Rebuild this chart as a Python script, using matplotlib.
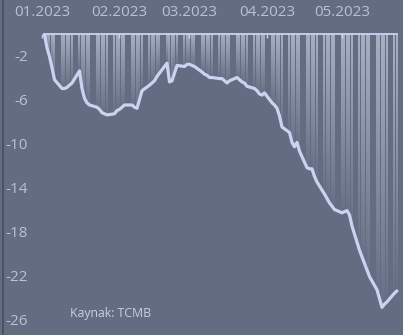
import numpy as np
import pandas as pd
import matplotlib
matplotlib.use("Agg")
import matplotlib.pyplot as plt
import matplotlib.dates as mdates
from matplotlib.collections import LineCollection
from matplotlib.lines import Line2D

plt.rcParams["font.family"] = ["Open Sans", "DejaVu Sans"]
plt.rcParams["axes.unicode_minus"] = False

# cumulative change, business days 2 Jan - 23 May 2023
jan = [-0.1, -1.3, -2.1, -3.1, -4.2, -5.0, -5.0, -4.9, -4.7, -4.5, -3.4,
       -5.0, -5.9, -6.3, -6.5, -6.7, -6.9, -7.2, -7.3, -7.4, -7.3, -7.0]
feb = [-6.9, -6.7, -6.5, -6.5, -6.7, -6.8, -6.0, -5.2, -4.7, -4.5, -4.3,
       -3.9, -3.6, -2.7, -4.4, -4.3, -3.6, -2.9, -3.0, -2.8]
mar = [-2.8, -2.9, -3.0, -3.5, -3.7, -3.8, -4.0, -4.0, -4.1, -4.1, -4.3,
       -4.5, -4.3, -4.0, -4.2, -4.4, -4.5, -4.8, -5.0, -5.2, -5.5, -5.6, -5.4]
apr = [-6.3, -6.5, -6.8, -7.5, -8.5, -9.0, -9.9, -10.3, -9.9, -10.7,
       -12.2, -12.3, -12.3, -13.0, -13.5, -14.6, -15.0, -15.4, -15.7, -16.0]
may = [-16.3, -16.2, -16.1, -16.5, -17.5, -19.7, -20.3, -20.9, -21.5, -22.1,
       -23.3, -24.1, -24.9, -24.6, -24.4, -23.6, -23.4]

values = np.array(jan + feb + mar + apr + may)
dates = pd.bdate_range("2023-01-02", "2023-05-23")
x = mdates.date2num(dates)

month_starts = pd.date_range("2023-01-01", "2023-05-01", freq="MS")
month_labels = ["01.2023", "02.2023", "03.2023", "04.2023", "05.2023"]
yticks = [-2, -6, -10, -14, -18, -22, -26]

bg = "#646c82"
line_c = "#cad3ef"
txt_c = "#b9c1d5"

fig = plt.figure(figsize=(4.03, 3.35), dpi=100, facecolor=bg)
ax = fig.add_axes([0, 0, 1, 1], facecolor=bg)

base = mdates.date2num(pd.Timestamp("2023-01-01"))
ax.set_xlim(base - 42 / 2.5, base + (403 - 42) / 2.5)
ax.set_ylim(-(335 - 33.5) / 11, 33.5 / 11)

# fading drop lines from zero down to each value
n = 40
segs, cols = [], []
rgb = matplotlib.colors.to_rgb("#e2e8f8")
for xi, v in zip(x, values):
    ys = np.linspace(0, v, n + 1)
    alphas = np.linspace(0.7, 0.05, n)
    for k in range(n):
        segs.append([(xi, ys[k]), (xi, ys[k + 1])])
        cols.append((*rgb, alphas[k]))
ax.add_collection(LineCollection(segs, colors=cols, linewidths=1.1, zorder=1))

ax.plot(x, values, color=line_c, lw=2.3, solid_joinstyle="round",
        solid_capstyle="round", zorder=3)

for s in ["left", "right", "bottom"]:
    ax.spines[s].set_visible(False)
ax.spines["top"].set_position(("data", 0))
ax.spines["top"].set_bounds(x[0], x[-1])
ax.spines["top"].set_color(line_c)
ax.spines["top"].set_linewidth(1.3)

ax.set_xticks(mdates.date2num(month_starts))
ax.set_xticklabels(month_labels, ha="center")
ax.tick_params(axis="x", top=True, labeltop=True, bottom=False,
               labelbottom=False, direction="in", length=3, width=1,
               color=line_c, labelcolor=txt_c, labelsize=11, pad=10)

ax.set_yticks(yticks)
ax.set_yticklabels([str(t) for t in yticks])
ax.tick_params(axis="y", left=True, length=0, pad=-20.2,
               labelcolor=txt_c, labelsize=11)

fig.text(70 / 403, 1 - 313 / 335, "Kaynak: TCMB", va="center", ha="left",
         fontsize=8.8, color="#c9d0e2")

fig.add_artist(Line2D([3 / 403, 3 / 403], [0, 1], color="#474d5e", lw=1.2))

fig.savefig("out.png", dpi=100, facecolor=bg)
